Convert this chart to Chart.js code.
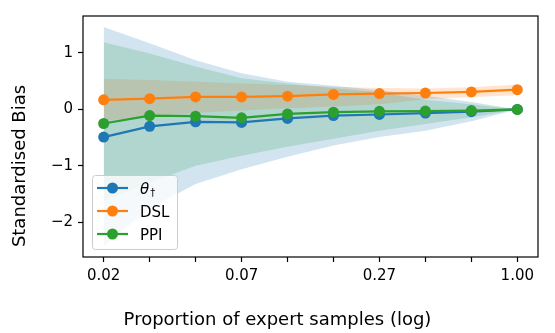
<!DOCTYPE html>
<html>
<head>
<meta charset="utf-8">
<script src="https://cdn.jsdelivr.net/npm/chart.js@4.4.1/dist/chart.umd.min.js"></script>
<style>
  html, body { margin: 0; padding: 0; background: #fff; }
</style>
</head>
<body>
<canvas id="biasChart" width="555" height="333"></canvas>
<script>
// x positions (proportion of expert samples, log spaced)
const proportions = [0.02, 0.0309, 0.0477, 0.0737, 0.1138, 0.1757, 0.2714, 0.4192, 0.6474, 1.0];
const xTickValues = [0.02, 0.0737, 0.2714, 1.0];
const xTickLabels = ['0.02', '0.07', '0.27', '1.00'];
const yTickValues = [-2, -1, 0, 1];
const yTickLabels = ['\u22122', '\u22121', '0', '1'];

// theta dagger
const thetaBias  = [-0.49, -0.30, -0.22, -0.23, -0.16, -0.11, -0.09, -0.065, -0.04, 0.0];
const thetaLower = [-2.42, -1.75, -1.32, -1.06, -0.84, -0.64, -0.49, -0.38, -0.21, 0.0];
const thetaUpper = [1.46, 1.17, 0.87, 0.64, 0.49, 0.42, 0.34, 0.24, 0.13, 0.0];

// DSL
const dslBias  = [0.17, 0.19, 0.22, 0.22, 0.235, 0.265, 0.28, 0.29, 0.31, 0.35];
const dslLower = [-0.20, -0.13, -0.06, -0.02, 0.02, 0.05, 0.09, 0.18, 0.22, 0.25];
const dslUpper = [0.54, 0.52, 0.49, 0.46, 0.43, 0.40, 0.38, 0.37, 0.39, 0.44];

// PPI
const ppiBias  = [-0.25, -0.11, -0.12, -0.15, -0.08, -0.05, -0.035, -0.03, -0.02, 0.0];
const ppiLower = [-1.62, -1.30, -1.00, -0.82, -0.66, -0.52, -0.38, -0.26, -0.14, 0.0];
const ppiUpper = [1.19, 0.99, 0.76, 0.55, 0.46, 0.38, 0.30, 0.17, 0.09, 0.0];

const BLUE = '#1f77b4', ORANGE = '#ff7f0e', GREEN = '#2ca02c';
const FONT = '"DejaVu Sans", sans-serif';

function pts(ys) { return proportions.map((x, i) => ({x: x, y: ys[i]})); }

function lineSet(label, ys, color, order) {
  return {
    label: label, data: pts(ys), borderColor: color, backgroundColor: color,
    borderWidth: 2.2, pointRadius: 5.5, pointBorderWidth: 0, fill: false, order: order
  };
}
function bandSet(ys, color, fill) {
  return {
    label: '', data: pts(ys), borderWidth: 0, pointRadius: 0, borderColor: 'rgba(0,0,0,0)',
    backgroundColor: color, fill: fill, order: 10
  };
}

// frame round the plot (matplotlib spines)
const framePlugin = {
  id: 'frame',
  afterDatasetsDraw(chart) {
    const a = chart.chartArea, c = chart.ctx;
    c.save();
    c.strokeStyle = '#000';
    c.lineWidth = 1.2;
    c.strokeRect(a.left, a.top, a.right - a.left, a.bottom - a.top);
    c.restore();
  }
};

// legend in lower left with line+marker swatches
const legendPlugin = {
  id: 'boxLegend',
  afterDraw(chart) {
    const c = chart.ctx;
    const bx = 92, by = 175, bw = 85, bh = 74;
    c.save();
    c.beginPath();
    c.roundRect(bx + 0.5, by + 0.5, bw, bh, 3);
    c.fillStyle = 'rgba(255,255,255,0.8)';
    c.fill();
    c.strokeStyle = '#cccccc';
    c.lineWidth = 1;
    c.stroke();
    const items = [[BLUE, 'theta'], [ORANGE, 'DSL'], [GREEN, 'PPI']];
    items.forEach((it, i) => {
      const y = 188 + i * 23;
      c.strokeStyle = it[0];
      c.lineWidth = 2.2;
      c.beginPath(); c.moveTo(97, y); c.lineTo(128, y); c.stroke();
      c.fillStyle = it[0];
      c.beginPath(); c.arc(112.5, y, 5.5, 0, Math.PI * 2); c.fill();
      c.fillStyle = '#000';
      c.textBaseline = 'alphabetic';
      c.textAlign = 'left';
      if (it[1] === 'theta') {
        c.font = 'italic 15px ' + FONT;
        c.fillText('\u03b8', 140, y + 5.5);
        const w = c.measureText('\u03b8').width;
        c.font = '10px ' + FONT;
        c.fillText('\u2020', 140 + w + 1, y + 8);
      } else {
        c.font = '15px ' + FONT;
        c.fillText(it[1], 140, y + 5.5);
      }
    });
    c.restore();
  }
};

// figure level axis labels
const labelPlugin = {
  id: 'figLabels',
  afterDraw(chart) {
    const c = chart.ctx;
    c.save();
    c.fillStyle = '#000';
    c.font = '18px ' + FONT;
    c.textAlign = 'center';
    c.textBaseline = 'alphabetic';
    c.fillText('Proportion of expert samples (log)', 277.5, 325);
    c.translate(25, 166);
    c.rotate(-Math.PI / 2);
    c.fillText('Standardised Bias', 0, 0);
    c.restore();
  }
};

const ctx = document.getElementById('biasChart').getContext('2d');
const biasChart = new Chart(ctx, {
  type: 'line',
  data: {
    datasets: [
      lineSet('\u03b8\u2020', thetaBias, BLUE, 3),
      lineSet('DSL', dslBias, ORANGE, 2),
      lineSet('PPI', ppiBias, GREEN, 1),
      bandSet(thetaLower, 'rgba(31,119,180,0.2)', false),
      bandSet(thetaUpper, 'rgba(31,119,180,0.2)', '-1'),
      bandSet(dslLower, 'rgba(255,127,14,0.2)', false),
      bandSet(dslUpper, 'rgba(255,127,14,0.2)', '-1'),
      bandSet(ppiLower, 'rgba(44,160,44,0.2)', false),
      bandSet(ppiUpper, 'rgba(44,160,44,0.2)', '-1')
    ]
  },
  options: {
    responsive: false,
    animation: false,
    events: [],
    layout: { padding: { left: 0, right: 17, top: 16, bottom: 0 } },
    scales: {
      x: {
        type: 'logarithmic',
        min: 0.01645,
        max: 1.216,
        afterBuildTicks: s => { s.ticks = proportions.map(v => ({ value: v })); },
        afterFit: s => { s.height = 76; },
        ticks: {
          autoSkip: false, maxRotation: 0, minRotation: 0, padding: 5, color: '#000',
          font: { family: FONT, size: 15 },
          callback: v => { const i = xTickValues.indexOf(v); return i >= 0 ? xTickLabels[i] : ''; }
        },
        grid: { drawOnChartArea: false, drawTicks: true, tickLength: 5, tickColor: '#000', tickWidth: 1.2 },
        border: { display: false }
      },
      y: {
        min: -2.614,
        max: 1.654,
        afterBuildTicks: s => { s.ticks = yTickValues.map(v => ({ value: v })); },
        afterFit: s => { s.width = 83; },
        ticks: {
          padding: 5, color: '#000',
          font: { family: FONT, size: 15 },
          callback: v => yTickLabels[yTickValues.indexOf(v)]
        },
        grid: { drawOnChartArea: false, drawTicks: true, tickLength: 5, tickColor: '#000', tickWidth: 1.2 },
        border: { display: false }
      }
    },
    plugins: {
      legend: { display: false },
      tooltip: { enabled: false },
      filler: { drawTime: 'beforeDatasetsDraw' }
    }
  },
  plugins: [framePlugin, legendPlugin, labelPlugin]
});
</script>
</body>
</html>
